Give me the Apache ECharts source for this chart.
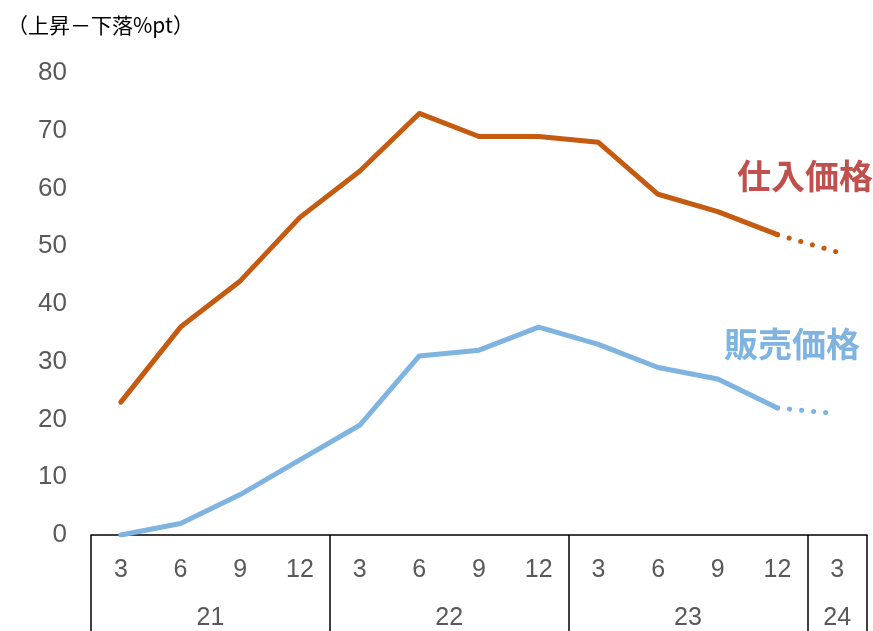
<!DOCTYPE html>
<html>
<head>
<meta charset="utf-8">
<script src="https://cdn.jsdelivr.net/npm/echarts@6/dist/echarts.min.js"></script>
<style>
  html, body { margin: 0; padding: 0; background: #fff; }
  #chart { width: 873px; height: 631px; }
</style>
</head>
<body>
<div id="chart"></div>
<script>
const months = ['3', '6', '9', '12', '3', '6', '9', '12', '3', '6', '9', '12', '3']
const years = ['21', '22', '23', '24']
const yearSpan = [4, 4, 4, 1]

// 仕入価格 / 販売価格, last point is a forecast (dotted)
const purchase = [23, 36, 44, 55, 63, 73, 69, 69, 68, 59, 56, 52, 49]
const selling = [0, 2, 7, 13, 19, 31, 32, 36, 33, 29, 27, 22, 21]
const yTicks = [0, 10, 20, 30, 40, 50, 60, 70, 80]

const lastActual = 11

const solidPart = arr => arr.map((v, i) => (i <= lastActual ? v : null))
const dottedPart = arr => arr.map((v, i) => (i >= lastActual ? v : null))

// year group boundaries and centres on a 0..N scale
const bounds = [0]
yearSpan.forEach(s => bounds.push(bounds[bounds.length - 1] + s))
const centers = yearSpan.map((s, i) => bounds[i] + s / 2)

const numFont = '"Liberation Sans", Arial, sans-serif'
const jpFont = '"Noto Sans CJK JP", sans-serif'
const orange = '#C55A11'
const blue = '#7FB3E0'

const chart = echarts.init(document.getElementById('chart'))

const option = {
  animation: false,
  title: [
    {
      text: '（上昇－下落%pt）',
      left: 2,
      top: 10,
      textStyle: { fontFamily: jpFont, fontSize: 21, fontWeight: 'normal', color: '#000' }
    },
    {
      text: '仕入価格',
      left: 732,
      top: 154,
      textStyle: { fontFamily: jpFont, fontSize: 34, fontWeight: 'bold', color: '#C0504D' }
    },
    {
      text: '販売価格',
      left: 719,
      top: 322,
      textStyle: { fontFamily: jpFont, fontSize: 34, fontWeight: 'bold', color: blue }
    }
  ],
  grid: { left: 91, right: 6, top: 73, bottom: 96 },
  xAxis: [
    {
      type: 'category',
      data: months,
      boundaryGap: true,
      axisLine: { show: true, lineStyle: { color: '#000', width: 1.5 } },
      axisTick: { show: false },
      axisLabel: { fontFamily: numFont, fontSize: 25, color: '#595959', margin: 23 }
    },
    {
      type: 'value',
      position: 'bottom',
      offset: 0,
      min: 0,
      max: months.length,
      splitLine: { show: false },
      axisLine: { show: false },
      axisTick: {
        show: true,
        length: 100,
        customValues: bounds,
        lineStyle: { color: '#000', width: 1.5 }
      },
      axisLabel: {
        customValues: centers,
        fontFamily: numFont,
        fontSize: 25,
        color: '#595959',
        margin: 71,
        formatter: v => {
          const i = centers.indexOf(v)
          return i >= 0 ? years[i] : ''
        }
      }
    }
  ],
  yAxis: {
    type: 'value',
    min: yTicks[0],
    max: yTicks[yTicks.length - 1],
    interval: 10,
    axisLine: { show: false },
    axisTick: { show: false },
    splitLine: { show: false },
    axisLabel: { fontFamily: numFont, fontSize: 26, color: '#595959', margin: 24 }
  },
  series: [
    {
      name: '仕入価格',
      type: 'line',
      xAxisIndex: 0,
      data: solidPart(purchase),
      showSymbol: false,
      lineStyle: { color: orange, width: 5, cap: 'round', join: 'round' }
    },
    {
      name: '仕入価格（見通し）',
      type: 'line',
      xAxisIndex: 0,
      data: dottedPart(purchase),
      showSymbol: false,
      lineStyle: { color: orange, width: 5, type: [0.1, 12], cap: 'round' }
    },
    {
      name: '販売価格',
      type: 'line',
      xAxisIndex: 0,
      data: solidPart(selling),
      showSymbol: false,
      lineStyle: { color: blue, width: 5, cap: 'round', join: 'round' }
    },
    {
      name: '販売価格（見通し）',
      type: 'line',
      xAxisIndex: 0,
      data: dottedPart(selling),
      showSymbol: false,
      lineStyle: { color: blue, width: 5, type: [0.1, 12], cap: 'round' }
    }
  ]
}

chart.setOption(option)
</script>
</body>
</html>
